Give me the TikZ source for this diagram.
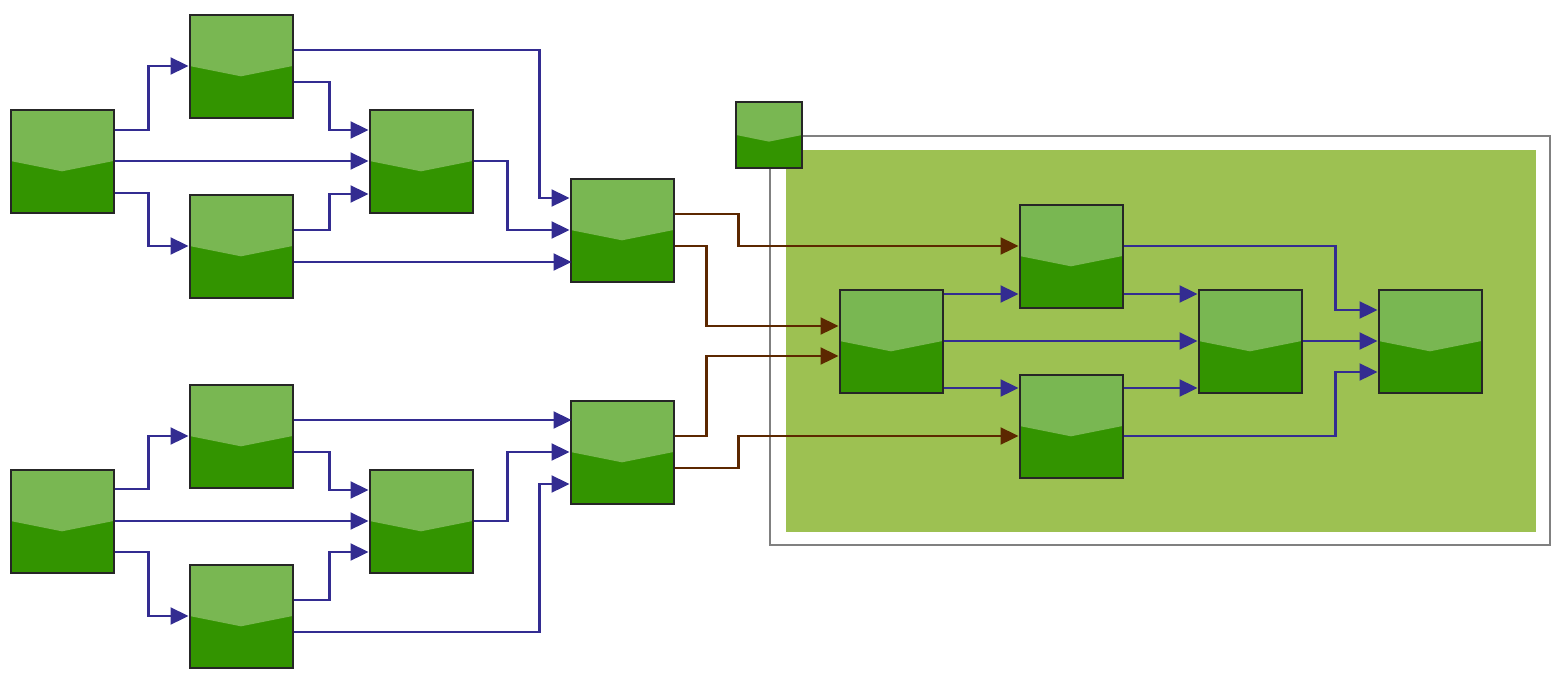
\documentclass[tikz,border=0pt]{standalone}
\usetikzlibrary{arrows.meta,calc}
\definecolor{lg}{HTML}{79B752}
\definecolor{dg}{HTML}{339400}
\definecolor{eb}{HTML}{332C91}
\definecolor{eo}{HTML}{5C2800}
\definecolor{pane}{HTML}{9DC152}
\begin{document}
\begin{tikzpicture}[x=1pt,y=-1pt,
  blk/.style={minimum width=103pt,minimum height=103pt,inner sep=0pt,draw=black!85,line width=2pt,
    path picture={
      \fill[dg] (path picture bounding box.south west) rectangle (path picture bounding box.north east);
      \fill[lg] (path picture bounding box.north west) -- (path picture bounding box.north east)
        -- ($(path picture bounding box.north east)!0.5!(path picture bounding box.south east)$)
        -- ($(path picture bounding box.north)!0.6!(path picture bounding box.south)$)
        -- ($(path picture bounding box.north west)!0.5!(path picture bounding box.south west)$) -- cycle;}},
  sblk/.style={blk,minimum width=66pt,minimum height=66pt},
  e/.style={draw=eb,line width=2.3pt,-{Triangle[length=18pt,width=17pt]}},
  eb/.style={e,draw=eo,-{Triangle[length=18pt,width=17pt,fill=eo]}},
]
\useasboundingbox (0,0) rectangle (1562,680);
\draw[gray,line width=2pt] (770,136) rectangle (1550,545);
\fill[pane] (786,150) rectangle (1536,532);
\node[blk] (A1) at (62,161) {};
\node[blk] (B1) at (241,66) {};
\node[blk] (C1) at (241,246) {};
\node[blk] (D1) at (421,161) {};
\node[blk] (E1) at (622,230) {};
\node[blk] (A2) at (62,521) {};
\node[blk] (B2) at (241,436) {};
\node[blk] (C2) at (241,616) {};
\node[blk] (D2) at (421,521) {};
\node[blk] (E2) at (622,452) {};
\node[sblk] (S) at (769,135) {};
\node[blk] (F) at (891,341) {};
\node[blk] (G) at (1071,256) {};
\node[blk] (H) at (1071,426) {};
\node[blk] (I) at (1250,341) {};
\node[blk] (J) at (1430,341) {};
% group 1
\draw[e] ([yshift=31pt]A1.east) -- ++(34,0) |- (B1.west);
\draw[e] (A1.east) -- (D1.west);
\draw[e] ([yshift=-32pt]A1.east) -- ++(34,0) |- (C1.west);
\draw[e] ([yshift=16pt]B1.east) -- ++(246,0) |- ([yshift=32pt]E1.west);
\draw[e] ([yshift=-16pt]B1.east) -- ++(36,0) |- ([yshift=31pt]D1.west);
\draw[e] ([yshift=16pt]C1.east) -- ++(36,0) |- ([yshift=-33pt]D1.west);
\draw[e] ([yshift=-16pt]C1.east) -- ++(278,0);
\draw[e] (D1.east) -- ++(34,0) |- (E1.west);
% group 2
\draw[e] ([yshift=32pt]A2.east) -- ++(34,0) |- (B2.west);
\draw[e] (A2.east) -- (D2.west);
\draw[e] ([yshift=-31pt]A2.east) -- ++(34,0) |- (C2.west);
\draw[e] ([yshift=16pt]B2.east) -- ++(278,0);
\draw[e] ([yshift=-16pt]B2.east) -- ++(36,0) |- ([yshift=31pt]D2.west);
\draw[e] ([yshift=16pt]C2.east) -- ++(36,0) |- ([yshift=-31pt]D2.west);
\draw[e] ([yshift=-16pt]C2.east) -- ++(246,0) |- ([yshift=-32pt]E2.west);
\draw[e] (D2.east) -- ++(34,0) |- (E2.west);
% brown
\draw[eb] ([yshift=16pt]E1.east) -- ++(64,0) |- ([yshift=10pt]G.west);
\draw[eb] ([yshift=-16pt]E1.east) -- ++(32,0) |- ([yshift=15pt]F.west);
\draw[eb] ([yshift=16pt]E2.east) -- ++(32,0) |- ([yshift=-15pt]F.west);
\draw[eb] ([yshift=-16pt]E2.east) -- ++(64,0) |- ([yshift=-10pt]H.west);
% right
\draw[e] ([yshift=47pt]F.east) -- ([yshift=-38pt]G.west);
\draw[e] (F.east) -- (I.west);
\draw[e] ([yshift=-47pt]F.east) -- ([yshift=38pt]H.west);
\draw[e] ([yshift=10pt]G.east) -- ++(212,0) |- ([yshift=31pt]J.west);
\draw[e] ([yshift=-38pt]G.east) -- ([yshift=47pt]I.west);
\draw[e] ([yshift=38pt]H.east) -- ([yshift=-47pt]I.west);
\draw[e] ([yshift=-10pt]H.east) -- ++(212,0) |- ([yshift=-31pt]J.west);
\draw[e] (I.east) -- (J.west);
\end{tikzpicture}
\end{document}
